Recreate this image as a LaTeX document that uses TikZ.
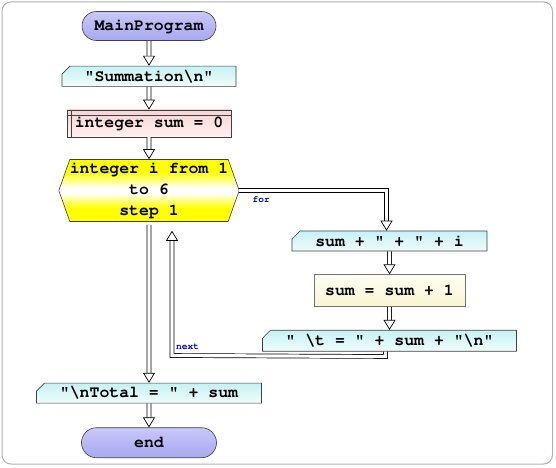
\documentclass[tikz,border=0pt]{standalone}
\usepackage[T1]{fontenc}
\renewcommand{\ttdefault}{pcr}
\usepackage{tikz}
\usetikzlibrary{shapes.misc,shapes.symbols,arrows.meta,positioning,calc}

\definecolor{pillTop}{HTML}{C8C8FA}
\definecolor{pillMid}{HTML}{F2F2FF}
\definecolor{pillBot}{HTML}{A8A8F0}
\definecolor{ioTop}{HTML}{C6F2F4}
\definecolor{ioBot}{HTML}{F0FCFC}
\definecolor{declTop}{HTML}{F6D4D4}
\definecolor{declBot}{HTML}{FFF0F0}
\definecolor{procTop}{HTML}{FFFFF4}
\definecolor{procBot}{HTML}{F8F4D0}
\definecolor{lblBlue}{HTML}{0000D0}
\pgfdeclareverticalshading{hexshade}{100bp}{color(0bp)=(yellow); color(36bp)=(yellow); color(48bp)=(white); color(52bp)=(white); color(65bp)=(yellow); color(100bp)=(yellow)}

\begin{document}
\begin{tikzpicture}[x=1pt, y=1pt, node distance=23pt,
  base/.style={draw=black!75, line width=0.6pt, inner sep=0pt, align=center, font=\ttfamily\bfseries\fontsize{16.5}{21}\selectfont},
  term/.style={base, rounded rectangle, minimum height=29pt, top color=pillTop, middle color=pillMid, bottom color=pillBot},
  io/.style={base, chamfered rectangle, chamfered rectangle corners=north west, chamfered rectangle sep=4pt, minimum height=20pt, top color=ioTop, bottom color=ioBot},
  decl/.style={base, rectangle, minimum height=27pt, top color=declTop, bottom color=declBot},
  proc/.style={base, rectangle, minimum height=32pt, top color=procTop, bottom color=procBot, draw=black!55},
  loopbox/.style={base, signal, signal to=east and west, signal pointer angle=141, minimum width=176pt, minimum height=62pt, shading=hexshade},
  flow/.style={draw=black, line width=0.7pt, double, double distance=3.2pt, -{Triangle[open, length=10pt, width=12pt, line width=0.7pt, fill=white]}},
  lbl/.style={inner sep=0pt, text=lblBlue, font=\ttfamily\bfseries\fontsize{9.5}{10}\selectfont},
  frame/.style={draw=black!30, line width=1pt, rounded corners=9pt, fill=white}]
\useasboundingbox (0,0) rectangle (556,467);
\draw[frame] (2,3) rectangle (552.5,465);
% main column
\node[term, minimum width=134pt] (main) at (149,441) {MainProgram};
\node[io, minimum width=174pt, below=25pt of main] (summ) {"Summation\textbackslash n"};
\node[decl, minimum width=164pt, below=23pt of summ] (init) {integer sum = 0};
\node[loopbox, below=22pt of init] (loop) {integer i from 1\\to 6\\step 1};
\node[io, minimum width=225pt, below=161pt of loop] (total) {"\textbackslash nTotal = " + sum};
\node[term, minimum width=135pt, minimum height=30pt, below=24pt of total] (end) {end};
% loop body
\node[io, minimum width=195pt] (body1) at (389.5,226) {sum + " + " + i};
\node[proc, minimum width=151pt, below=of body1] (body2) {sum = sum + 1};
\node[io, minimum width=254pt, minimum height=21pt, below=of body2] (body3) {" \textbackslash t = " + sum + "\textbackslash n"};
\coordinate (drop) at ([xshift=-4pt, yshift=-5pt]body3.south);
\coordinate (turn) at (172,111.5);
\coordinate (back) at ([xshift=23pt, yshift=-9pt]loop.south);
\draw[black!75, line width=0.6pt] ([yshift=-6pt]init.north west) -- ([yshift=-6pt]init.north east);
\draw[black!75, line width=0.6pt] ([xshift=4.5pt]init.north west) -- ([xshift=4.5pt]init.south west);
\draw[flow] (main) -- (summ);
\draw[flow] (summ) -- (init);
\draw[flow] (init) -- (loop);
\draw[flow] (loop.east) -| ([xshift=-3pt]body1.north);
\draw[flow] (body1) -- (body2);
\draw[flow] (body2) -- (body3);
\draw[flow] ([xshift=-4pt]body3.south) -- (drop) -- (turn) -- (back);
\draw[flow] ([yshift=-3pt]loop.south) -- (total);
\draw[flow] (total) -- (end);
\node[lbl, below right=6pt and 13pt of loop.east] (forlbl) {for};
\node[lbl, above right=6pt and 4pt of turn] (nextlbl) {next};
\end{tikzpicture}
\end{document}
